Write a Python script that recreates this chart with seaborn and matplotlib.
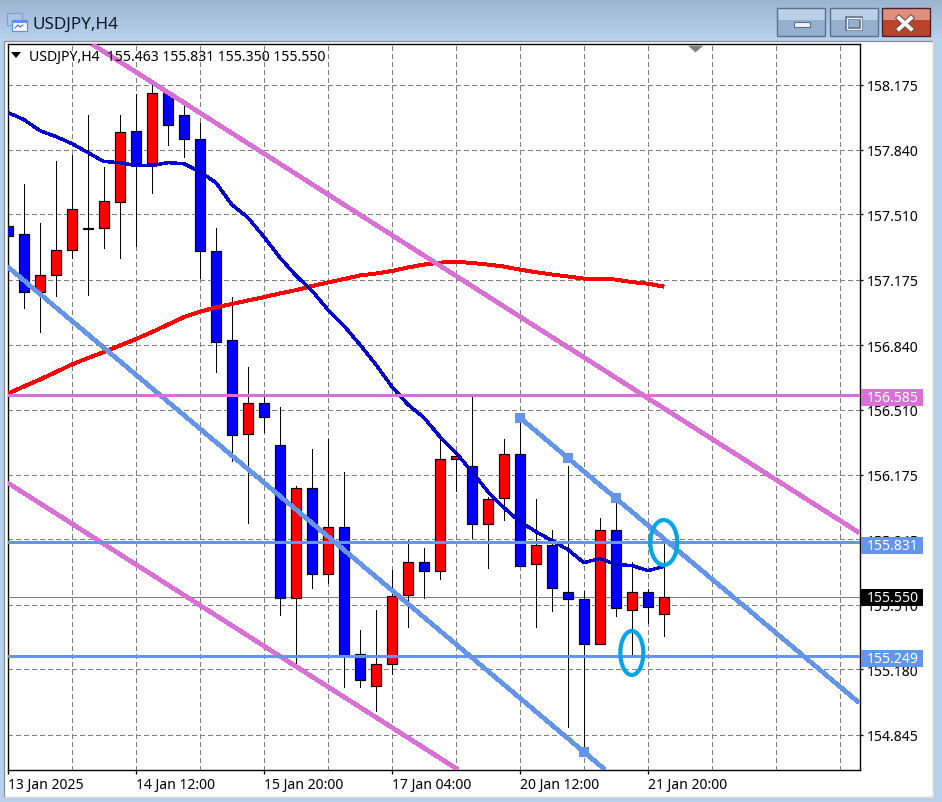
import numpy as np
import pandas as pd
import seaborn as sns
import matplotlib
matplotlib.use("Agg")
import matplotlib.pyplot as plt
from matplotlib.patches import Ellipse, Rectangle, Polygon

# ---------- data ----------
opens = [157.448,157.407,157.110,157.197,157.330,157.440,157.442,157.576,157.939,157.775,158.134,158.021,157.898,157.320,
         156.869,156.387,156.546,156.331,155.547,156.110,155.670,155.906,155.260,155.096,155.209,155.562,155.731,155.685,
         156.259,156.223,155.926,156.059,156.280,155.721,155.818,155.573,155.542,155.311,155.895,155.485,155.573,155.463]
closes = [157.401,157.110,157.197,157.330,157.540,157.437,157.581,157.934,157.775,158.134,157.970,157.898,157.320,156.858,
          156.382,156.546,156.474,155.547,156.110,155.670,155.906,155.255,155.127,155.209,155.557,155.731,155.685,156.259,
          156.274,155.926,156.054,156.280,155.711,155.818,155.598,155.542,155.311,155.895,155.491,155.573,155.501,155.550]
highs = [157.653,157.668,157.468,157.786,157.816,158.021,157.755,158.021,158.129,158.175,158.134,158.073,157.980,157.442,
         157.089,156.730,156.572,156.525,156.116,156.310,156.361,156.192,155.383,155.485,155.690,155.844,155.803,156.366,
         156.274,156.576,156.064,156.361,156.469,156.054,155.895,156.223,155.583,155.957,156.049,155.731,155.593,155.831]
lows = [157.268,157.028,156.910,157.094,157.289,157.099,157.340,157.289,157.350,157.622,157.868,157.806,157.186,156.705,
        156.249,155.931,156.397,155.460,155.204,155.598,155.624,155.091,155.091,154.968,155.153,155.398,155.547,155.644,
        156.095,155.854,155.700,155.946,155.711,155.398,155.480,154.886,154.758,155.311,155.450,155.255,155.419,155.350]
ma_fast = [158.032,157.996,157.939,157.909,157.873,157.827,157.781,157.775,157.760,157.760,157.775,157.770,157.729,157.673,
           157.560,157.494,157.396,157.289,157.197,157.120,157.022,156.940,156.843,156.741,156.628,156.536,156.469,156.372,
           156.290,156.192,156.090,156.008,155.936,155.885,155.839,155.793,155.726,155.747,155.716,155.711,155.685,155.706]
ma_slow = [156.592,156.628,156.664,156.702,156.741,156.774,156.805,156.838,156.871,156.907,156.945,156.984,157.012,157.033,
           157.051,157.069,157.086,157.105,157.122,157.143,157.161,157.179,157.197,157.207,157.220,157.238,157.253,157.263,
           157.268,157.261,157.253,157.243,157.227,157.214,157.202,157.192,157.181,157.181,157.176,157.163,157.155,157.140]
bars = list(range(len(opens)))

price_ticks = [158.175,157.840,157.510,157.175,156.840,156.510,156.175,155.845,155.510,155.180,154.845]
date_ticks = [0,8,16,24,32,40]
date_labels = ["13 Jan 2025","14 Jan 12:00","15 Jan 20:00","17 Jan 04:00","20 Jan 12:00","21 Jan 20:00"]

trend_pink_upper_x = [5.31,53.19];  trend_pink_upper_y = [158.380,155.880]
trend_pink_lower_x = [-0.03,28.125]; trend_pink_lower_y = [156.136,154.666]
trend_blue_lower_x = [-0.03,37.31]; trend_blue_lower_y = [157.243,154.666]
trend_blue_upper_x = [32,53.19];    trend_blue_upper_y = [156.469,155.009]
anchor_x = [32,35,38,36]; anchor_y = [156.469,156.263,156.057,154.758]

level_values = [156.585,155.831,155.249]
level_names = ["156.585","155.831","155.249"]
level_centres = [156.574,155.816,155.237]
last_price = 155.550; last_centre = 155.545
header = "USDJPY,H4  155.463 155.831 155.350 155.550"

PINK = "#da70d6"; CORN = "#6495ed"; NAVY = "#0000cd"; CYAN = "#00a5e6"
W, H = 942, 803
sns.set_theme(style="white", rc={"axes.edgecolor": "black"})
plt.rcParams["font.family"] = ["Noto Sans", "DejaVu Sans"]

fig = plt.figure(figsize=(W/100, H/100), dpi=100)

# ---------- window chrome, in pixel coordinates ----------
bg = fig.add_axes([0, 0, 1, 1], zorder=-1)
bg.set_xlim(0, W); bg.set_ylim(H, 0); bg.axis("off")
grad = np.ones((H, 1, 3)) * np.array([183, 208, 235]) / 255
top = np.array([155, 180, 208]) / 255; bot = np.array([186, 210, 236]) / 255
for r in range(42):
    grad[r, 0] = top + (bot - top) * r / 41
bg.imshow(grad, extent=(0, W, H, 0), aspect="auto", zorder=0)
bg.set_xlim(0, W); bg.set_ylim(H, 0)
bg.add_patch(Rectangle((3.5, 41.5), 929, 756, fc="white", ec="#8c8c8c", lw=0.9, zorder=1))
bg.plot([932.5, 932.5, 3.5], [42, 797.5, 797.5], color="#dcdcdc", lw=1.0, zorder=2)
for x0, up, low, edge in [(777, "#bad0e6", "#95afce", "#5c6f8c"),
                          (830, "#bad0e6", "#95afce", "#5c6f8c"),
                          (882, "#e08f7f", "#b8452a", "#4c2030")]:
    w = 48
    bg.add_patch(Rectangle((x0, 9), w, 14, fc=up, ec="none", zorder=3))
    bg.add_patch(Rectangle((x0, 21), w, 16, fc=low, ec="none", zorder=3))
    bg.add_patch(Rectangle((x0, 9), w, 28, fc="none", ec=edge, lw=1.0, zorder=4))
bg.add_patch(Rectangle((793.5, 22.5), 16, 5.5, fc="#f2f2f2", ec="#5c6f8c", lw=0.8, zorder=5))
bg.add_patch(Rectangle((847, 19), 14, 11, fc="none", ec="#5c6f8c", lw=2.6, zorder=5))
bg.add_patch(Rectangle((847, 19), 14, 11, fc="none", ec="#f0f0f0", lw=1.0, zorder=6))
for xs, ys in [([899, 911], [19, 30]), ([911, 899], [19, 30])]:
    bg.plot(xs, ys, color="#6a4a50", lw=4.2, solid_capstyle="projecting", zorder=5)
    bg.plot(xs, ys, color="#f4f4f4", lw=2.8, solid_capstyle="projecting", zorder=6)
bg.add_patch(Rectangle((7, 14), 15, 12, fc="#a8c6ea", ec="#7f9fc8", lw=0.8, zorder=3))
bg.add_patch(Rectangle((12, 21), 15, 11, fc="#f4f8fd", ec="#5f95dc", lw=0.9, zorder=4))
bg.add_patch(Rectangle((12, 21), 15, 3, fc="#5f95dc", ec="none", zorder=5))
bg.plot([15, 18, 20, 23], [29, 26, 28, 26], color="#4a6ea8", lw=0.8, zorder=6)
bg.text(33, 25, "USDJPY,H4", fontsize=12.3, color="#0b1a2c", va="center", ha="left", zorder=6)

# ---------- chart ----------
ax = fig.add_axes([7.5/W, (H-770.5)/H, 852/W, 725.5/H])
ax.set_facecolor("none")
ax.set_xlim(-0.02, 53.23)
ax.set_ylim(154.666, 158.383)
for s in ax.spines.values():
    s.set_color("black"); s.set_linewidth(1.0)

ax.set_axisbelow(True)
ax.set_xticks(date_ticks, labels=date_labels, ha="left")
ax.set_xticks([b + 4 for b in range(0, 48, 8)] + [48, 52], minor=True)
ax.set_yticks(price_ticks, labels=[f"{p:.3f}" for p in price_ticks])
ax.yaxis.tick_right()
grid_kw = dict(color="#808080", linewidth=0.75, linestyle=(0, (4, 3)), antialiased=False)
ax.grid(True, which="major", **grid_kw)
ax.xaxis.grid(True, which="minor", **grid_kw)
ax.xaxis.get_major_ticks()[0].gridline.set_visible(False)
ax.tick_params(axis="x", which="major", length=2.6, width=0.9, pad=2.5, labelsize=10.1, labelcolor="black", color="black", bottom=True)
ax.tick_params(axis="x", which="minor", length=0)
ax.tick_params(axis="y", which="major", length=1.8, width=0.9, pad=3.6, labelsize=10.1, labelcolor="black", color="black", right=True, left=False)

df = pd.DataFrame({"bar": bars, "open": opens, "close": closes, "high": highs, "low": lows,
                   "ma_fast": ma_fast, "ma_slow": ma_slow})
up = df["close"] >= df["open"]
ax.axhline(last_price, color="#808080", lw=0.75, zorder=1)
ax.vlines(df["bar"], df["low"], df["high"], colors="black", lw=0.72, zorder=2, antialiased=False)
ax.bar(df["bar"], (df["close"] - df["open"]).abs(), bottom=df[["open", "close"]].min(axis=1),
       width=0.6, color=np.where(up, "#ff0000", "#0000ff"), edgecolor="black", linewidth=0.85, zorder=3)

line_kw = dict(solid_capstyle="butt", antialiased=False, estimator=None, legend=False, ax=ax)
sns.lineplot(data=df, x="bar", y="ma_slow", color="#ff0000", lw=2.1, zorder=5, **line_kw)
sns.lineplot(data=df, x="bar", y="ma_fast", color=NAVY, lw=1.7, zorder=6, **line_kw)
for xs, ys, c in [(trend_pink_upper_x, trend_pink_upper_y, PINK),
                  (trend_pink_lower_x, trend_pink_lower_y, PINK),
                  (trend_blue_lower_x, trend_blue_lower_y, CORN),
                  (trend_blue_upper_x, trend_blue_upper_y, CORN)]:
    sns.lineplot(x=xs, y=ys, color=c, lw=2.5, zorder=7, **line_kw)
for v, c in zip(level_values, [PINK, CORN, CORN]):
    ax.axhline(v, color=c, lw=2.1, zorder=7, antialiased=False)
sns.scatterplot(x=anchor_x, y=anchor_y, color=CORN, marker="s", s=42, linewidth=0, zorder=8, legend=False, ax=ax)
ax.set_xlabel(""); ax.set_ylabel("")

ax.add_patch(Ellipse((41, 155.829), 27/16, 45*0.005123, fc="none", ec=CYAN, lw=3.0, zorder=9))
ax.add_patch(Ellipse((39, 155.263), 23/16, 44*0.005123, fc="none", ec=CYAN, lw=3.0, zorder=9))

# price flags on the axis
yt = ax.get_yaxis_transform()
for val, name, c in zip(level_centres + [last_centre], level_names + [f"{last_price:.3f}"], [PINK, CORN, CORN, "black"]):
    ax.add_patch(Rectangle((1 + 1.5/852, val - 8.5*0.005123), 62/852, 17*0.005123, fc=c, ec="none",
                           transform=yt, clip_on=False, zorder=10))
    ax.text(1 + 7.5/852, val, name, color="white", fontsize=10.1, va="center", ha="left",
            transform=yt, clip_on=False, zorder=11)

# header and markers inside the frame
ax.text(21.5/852, 1 - 12/725.5, header, fontsize=10.1, color="black", va="center", ha="left", transform=ax.transAxes, zorder=12)
ax.add_patch(Polygon([(3.5/852, 1-8/725.5), (13.5/852, 1-8/725.5), (8.5/852, 1-14/725.5)], fc="black", ec="none",
                     transform=ax.transAxes, zorder=12))
ax.add_patch(Polygon([(680.5/852, 1-1.5/725.5), (696/852, 1-1.5/725.5), (688/852, 1-8.5/725.5)], fc="#808080", ec="none",
                     transform=ax.transAxes, zorder=12))

fig.savefig("out.png", dpi=100)
